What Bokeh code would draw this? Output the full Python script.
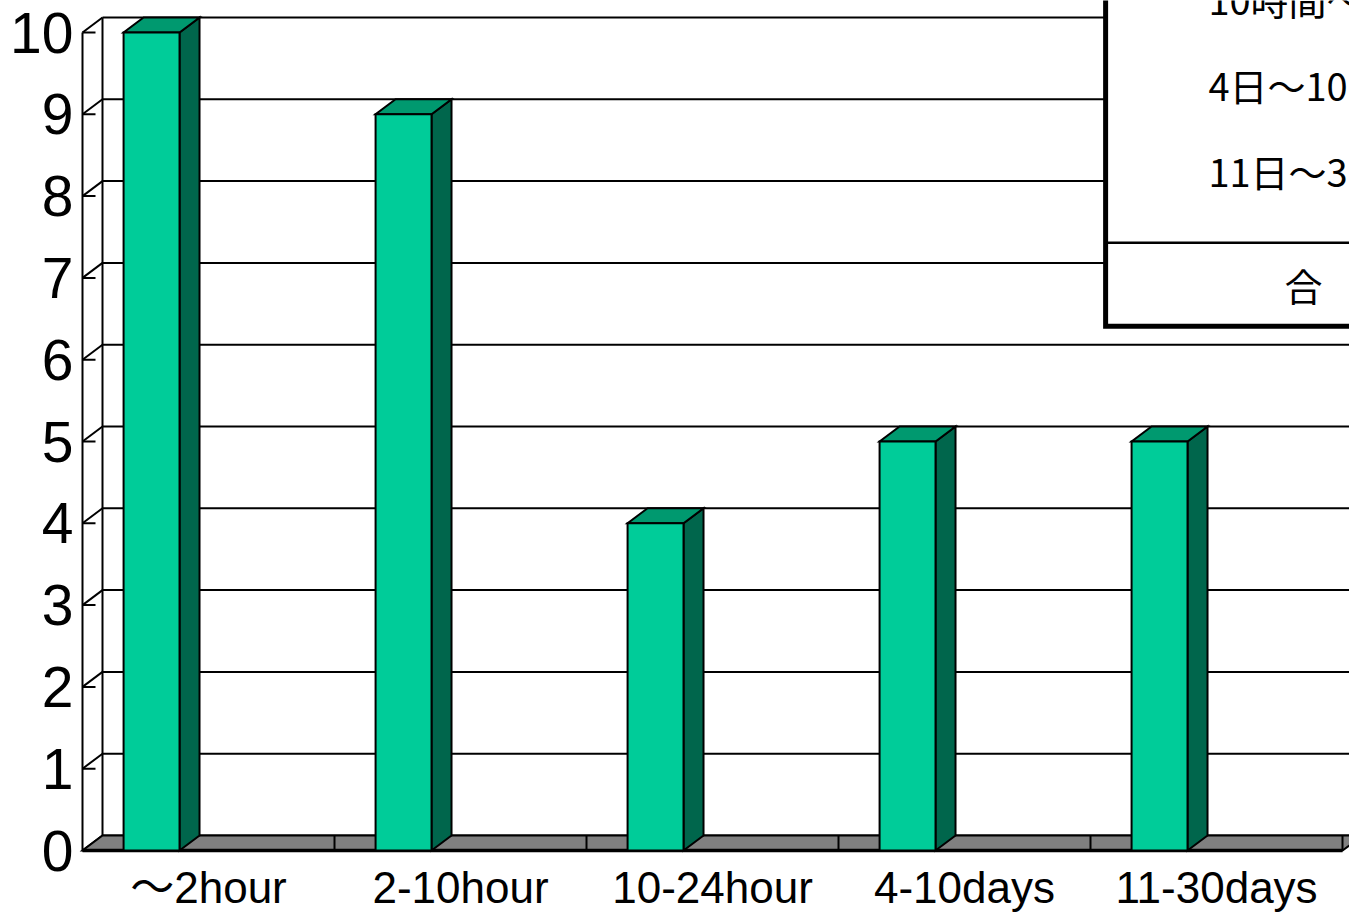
from bokeh.plotting import figure
from bokeh.models import Range1d, FixedTicker, ColumnDataSource
from bokeh.core.properties import value
from bokeh.embed import file_html
from bokeh.resources import INLINE

# ---- data -------------------------------------------------------------
categories = ["～2hour", "2-10hour", "10-24hour", "4-10days", "11-30days"]
counts = [10, 9, 4, 5, 5]
y_ticks = list(range(0, 11))
table_rows = ["10時間～24時間", "4日～10日", "11日～30日"]
table_total = "合　計"

# ---- geometry ----------------------------------------------------------
SLOT_PX = 252.0          # pixels per category slot
UNIT_PX = 81.8           # pixels per count unit
DX = 20.0 / SLOT_PX      # depth offset (x) of the back wall, in data units
DY = 15.0 / UNIT_PX      # depth offset (y) of the back wall, in data units
BAR_OFFSET = 0.163       # bar start within its slot
BAR_WIDTH = 0.222
LABEL_MIDDLE = -0.452    # vertical centre of the category names, below the floor
N = len(categories)
Y_TOP = max(y_ticks)

FRONT = "#00CC99"
TOP = "#00996F"
SIDE = "#00664C"
FLOOR = "#808080"

# the frame runs to the bottom of the page so the category names sit inside it
p = figure(width=1349, height=913, output_backend="svg", toolbar_location=None,
           x_range=Range1d(-3.0 / SLOT_PX, 1267.0 / SLOT_PX),
           y_range=Range1d(-63.0 / UNIT_PX, 850.0 / UNIT_PX),
           min_border_left=79, min_border_right=0, min_border_top=0, min_border_bottom=0)
p.outline_line_color = None
p.xgrid.visible = False
p.ygrid.visible = False
p.xaxis.visible = False
p.background_fill_color = "white"
p.border_fill_color = "white"

# y axis: labels only, the 3D frame is drawn below
p.yaxis.ticker = FixedTicker(ticks=y_ticks)
p.yaxis.axis_line_color = None
p.yaxis.major_tick_line_color = None
p.yaxis.minor_tick_line_color = None
p.yaxis.major_tick_in = 0
p.yaxis.major_tick_out = 0
p.yaxis.major_label_standoff = 6
p.yaxis.major_label_text_font = "Liberation Sans"
p.yaxis.major_label_text_font_size = "57px"
p.yaxis.major_label_text_color = "black"

x_far = N + 1.0

# back wall gridlines
p.segment(x0=[DX] * len(y_ticks), y0=[v + DY for v in y_ticks],
          x1=[x_far] * len(y_ticks), y1=[v + DY for v in y_ticks],
          line_color="black", line_width=2)
# back wall left edge
p.segment(x0=[DX], y0=[DY], x1=[DX], y1=[Y_TOP + DY], line_color="black", line_width=2)
# side wall gridlines
p.segment(x0=[0] * len(y_ticks), y0=y_ticks, x1=[DX] * len(y_ticks),
          y1=[v + DY for v in y_ticks], line_color="black", line_width=2)
# front value axis and its inward ticks
p.segment(x0=[0], y0=[0], x1=[0], y1=[Y_TOP], line_color="black", line_width=2)
p.segment(x0=[0] * len(y_ticks), y0=y_ticks, x1=[13.0 / SLOT_PX] * len(y_ticks),
          y1=y_ticks, line_color="black", line_width=2)

# summary table panel
TABLE_LEFT, TABLE_BOTTOM, TABLE_DIVIDER = 4.06, 6.41, 7.43
p.quad(left=[TABLE_LEFT], right=[x_far], bottom=[TABLE_BOTTOM], top=[Y_TOP + 2],
       fill_color="white", line_color="black", line_width=5, line_join="miter")
p.segment(x0=[TABLE_LEFT], y0=[TABLE_DIVIDER], x1=[x_far], y1=[TABLE_DIVIDER],
          line_color="black", line_width=2.5)
row_y = [10.42, 9.36, 8.31]
p.text(x=[4.468] * len(table_rows), y=row_y, text=table_rows,
       text_font=value("Noto Sans CJK JP"), text_font_size="38px",
       text_baseline="middle", text_align="left", text_color="black")
p.text(x=[4.77], y=[6.92], text=[table_total],
       text_font=value("Noto Sans CJK JP"), text_font_size="38px",
       text_baseline="middle", text_align="left", text_color="black")

# floor
p.patch(x=[0, N, N + DX, DX], y=[0, 0, DY, DY], fill_color=FLOOR,
        line_color="black", line_width=2, line_join="miter")
p.segment(x0=list(range(1, N + 1)), y0=[0] * N, x1=list(range(1, N + 1)), y1=[DY] * N,
          line_color="black", line_width=2)
p.segment(x0=[0], y0=[0], x1=[N], y1=[0], line_color="black", line_width=3.5)

# 3D columns
lefts = [i + BAR_OFFSET for i in range(N)]
rights = [l + BAR_WIDTH for l in lefts]
src = ColumnDataSource(dict(
    left=lefts, right=rights, top=counts, bottom=[0] * N,
    side_x=[[r, r + DX, r + DX, r] for r in rights],
    side_y=[[0, DY, v + DY, v] for v in counts],
    top_x=[[l, r, r + DX, l + DX] for l, r in zip(lefts, rights)],
    top_y=[[v, v, v + DY, v + DY] for v in counts],
))
p.patches(xs="side_x", ys="side_y", source=src, fill_color=SIDE,
          line_color="black", line_width=2, line_join="miter")
p.patches(xs="top_x", ys="top_y", source=src, fill_color=TOP,
          line_color="black", line_width=2, line_join="miter")
p.quad(left="left", right="right", top="top", bottom="bottom", source=src,
       fill_color=FRONT, line_color="black", line_width=2, line_join="miter")

# category names centred under each slot
p.text(x=[i + 0.5 for i in range(N)], y=[LABEL_MIDDLE] * N, text=categories,
       text_font=value("Liberation Sans, 'Noto Sans CJK JP'"), text_font_size="44px",
       text_baseline="middle", text_align="center", text_color="black")

open("out.html", "w").write(file_html(p, INLINE))
